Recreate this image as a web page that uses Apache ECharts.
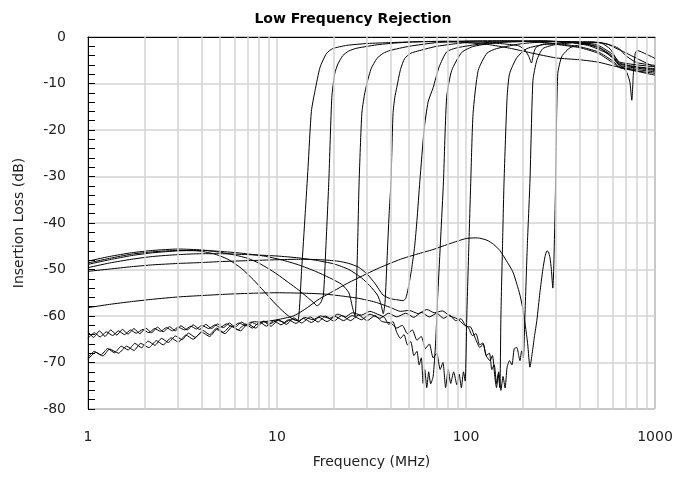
<!DOCTYPE html>
<html><head><meta charset="utf-8">
<script src="https://cdn.jsdelivr.net/npm/echarts@6/dist/echarts.min.js"></script>
<style>html,body{margin:0;padding:0;background:#fff}#c{width:678px;height:482px}</style>
</head><body><div id="c"></div>
<script>
// ---- data (frequency MHz, insertion loss dB) ----
const curve1 = [[1,-48.6],[1.3,-47.6],[1.7,-46.7],[2.2,-46.2],[3,-45.9],[3.8,-46.0],[4.6,-46.6],[5.5,-47.8],[6.5,-49.8],[7.5,-52.2],[8.5,-54.6],[9.5,-56.8],[10.5,-58.6],[11.5,-60.0],[12.3,-60.8],[12.9,-61],[13.5,-50],[14.1,-38],[14.6,-28],[15.2,-16],[15.9,-11.5],[16.9,-6.5],[18.3,-3.5],[19.7,-2.5],[23.4,-1.8],[30,-1.4],[40,-1.2],[60,-1.0],[90,-1.1],[130,-1.6],[170,-2.4],[220,-3.4],[300,-4.5],[400,-4.9],[500,-5.4],[600,-6.2],[700,-6.8],[850,-7.6],[1000,-8.2]];
const curve2 = [[1,-48.2],[1.3,-47.2],[1.7,-46.4],[2.2,-45.9],[3,-45.6],[4,-45.8],[5,-46.3],[6,-46.9],[7,-47.6],[8,-48.6],[9,-49.8],[10,-51],[11.5,-52.8],[13,-54.4],[14.5,-56],[15.5,-57],[16.3,-57.8],[17,-57.2],[17.6,-55.5],[18.1,-46],[18.8,-31],[19.5,-13],[20.2,-7.9],[21,-5.8],[22.3,-4],[24,-3],[26.5,-2.4],[35,-1.6],[50,-1.1],[80,-0.9],[120,-1.1],[160,-1.5],[190,-1.9],[205,-2.8],[215,-4.2],[222,-5.6],[228,-3.5],[235,-2.2],[260,-1.5],[300,-1.6],[400,-2.3],[500,-3.5],[600,-5.6],[650,-6.6],[800,-7.3],[1000,-7.8]];
const curve3 = [[1,-48.9],[1.3,-47.9],[1.7,-47.0],[2.2,-46.4],[3,-46.0],[4,-45.9],[5,-46.1],[6.5,-46.5],[8.5,-47.1],[10.5,-47.9],[13,-49.0],[16,-50.4],[19,-51.8],[22,-53.2],[24,-55],[25.2,-58.5],[25.9,-60],[26.4,-52],[26.8,-42],[27.2,-31],[28.1,-16.5],[29,-12.5],[29.9,-10],[31.5,-6.8],[33.8,-4.6],[36.5,-3.5],[39.6,-2.9],[50,-2.0],[70,-1.2],[100,-0.85],[150,-0.8],[200,-0.9],[300,-1.4],[400,-2.1],[500,-3.2],[600,-5.2],[650,-6.4],[800,-7.0],[1000,-7.5]];
const curve4 = [[1,-49.6],[1.3,-48.6],[1.7,-47.8],[2.2,-47.2],[3,-46.8],[4,-46.6],[5,-46.6],[7,-46.8],[10,-47.1],[13,-47.5],[16,-48.0],[20,-48.8],[24,-50],[28,-51.8],[31,-53.5],[34,-55.5],[35.5,-57.5],[36.5,-59.5],[37.3,-57],[38.2,-48],[39.2,-38],[40.1,-31],[41.1,-16.5],[42,-13],[43,-10.9],[45,-7],[47.4,-4.6],[51,-3.5],[57,-2.9],[70,-2.0],[100,-1.2],[150,-0.9],[250,-0.85],[350,-1.1],[450,-1.9],[550,-3.4],[600,-4.6],[650,-6.1],[800,-6.7],[1000,-7.2]];
const curve5 = [[1,-50.4],[1.3,-49.9],[1.7,-49.4],[2.2,-49.0],[3,-48.7],[4,-48.5],[5,-48.3],[7,-48.1],[10,-47.9],[13,-47.8],[17,-47.9],[21,-48.2],[24,-48.7],[27,-49.5],[30,-51],[33,-53],[36.4,-55.5],[40,-56.3],[43,-56.5],[46.5,-56.7],[48,-56.2],[49.5,-54],[51.5,-50],[53.5,-45],[55,-39.5],[57,-31],[60,-20],[63,-14],[67,-10.9],[72,-6.5],[79,-3.2],[90,-2.3],[120,-1.5],[160,-1.0],[250,-0.85],[350,-1.1],[450,-1.7],[520,-2.6],[600,-4.5],[650,-6.0],[700,-7.2],[735,-9.5],[754,-13.6],[768,-8],[785,-3.6],[805,-2.9],[900,-3.7],[1000,-4.6]];
const curve6 = [[1,-64.8],[1.08,-63.6],[1.16,-64.5],[1.25,-63.4],[1.35,-64.2],[1.45,-63.2],[1.56,-64.0],[1.68,-63.0],[1.8,-63.7],[1.95,-62.9],[2.1,-63.6],[2.25,-62.7],[2.42,-63.3],[2.6,-62.5],[2.8,-63.2],[3.0,-62.4],[3.25,-63.0],[3.5,-62.2],[3.75,-62.8],[4.0,-62.0],[4.35,-62.7],[4.7,-61.9],[5.0,-62.5],[5.4,-61.7],[5.8,-62.3],[6.3,-61.5],[6.8,-62.1],[7.3,-61.3],[7.9,-61.9],[8.5,-61.1],[9.2,-61.7],[10,-60.9],[11,-61.4],[12,-60.6],[13,-61.1],[14,-60.3],[15.5,-60.8],[17,-60.0],[19,-60.5],[21,-59.6],[23,-60.2],[25,-59.3],[28,-59.8],[31,-59.0],[34,-59.6],[37,-60.3],[39,-61.8],[41,-61.2],[43,-63.5],[45,-64.8],[47,-64],[49,-66.2],[51,-65.5],[53,-68.5],[55,-67.6],[56.5,-70.5],[58,-69],[59.3,-74.5],[60.5,-71.5],[62,-75.4],[63.5,-72],[65,-74.6],[67,-73],[69,-66],[71,-55],[73.5,-43],[76,-31],[79,-13],[84,-7.2],[95,-3.3],[110,-2.0],[150,-1.2],[250,-0.9],[400,-1.3],[500,-2.1],[600,-4.2],[650,-5.8],[800,-6.5],[1000,-7.0]];
const curve7 = [[1,-69.3],[1.1,-67.8],[1.2,-68.6],[1.3,-67.1],[1.45,-68.0],[1.6,-66.5],[1.75,-67.4],[1.9,-65.9],[2.1,-66.8],[2.3,-65.3],[2.5,-66.2],[2.75,-64.7],[3.0,-65.6],[3.3,-64.1],[3.6,-65.0],[4.0,-63.5],[4.4,-64.4],[4.8,-62.9],[5.3,-63.8],[5.8,-62.3],[6.4,-63.2],[7.0,-61.7],[7.7,-62.6],[8.5,-61.2],[9.3,-62.2],[10.2,-60.8],[11.2,-61.8],[12.3,-60.4],[13.5,-61.5],[15,-60.2],[16.5,-61.3],[18,-60.0],[20,-61.1],[22,-59.9],[24.5,-61.0],[27,-59.8],[30,-61.0],[33,-59.9],[36,-61.2],[40,-61.5],[43,-62.6],[46,-62],[49,-63.8],[52,-63],[55,-65.2],[58,-64.4],[61,-67],[64,-66],[67,-69],[70,-68],[73,-71.5],[75.5,-70],[78,-75.4],[80.5,-71.5],[83,-74.5],[86,-72],[89.5,-74.8],[92,-72.5],[94.5,-75.4],[97,-72],[99,-74],[101,-60],[103.5,-45],[106,-31],[109,-16.5],[116,-7.2],[129,-3.5],[145,-2.5],[200,-1.4],[300,-0.95],[400,-1.1],[500,-1.8],[600,-3.8],[650,-5.6],[800,-6.4],[1000,-6.8]];
const curve8 = [[1,-58.2],[1.3,-57.5],[1.7,-56.9],[2.2,-56.4],[3,-55.9],[4,-55.6],[5.5,-55.3],[7.5,-55.1],[10,-55.0],[14,-55.1],[18,-55.3],[22,-55.7],[27,-56.2],[33,-57],[40,-58.2],[45,-59],[50,-58.8],[56,-59.5],[62,-58.6],[68,-59.3],[75,-58.9],[82,-60],[90,-60.6],[97,-61.8],[103,-62.5],[108,-64.2],[113,-63.8],[118,-66.2],[123,-65.8],[128,-68.5],[133,-68],[137,-71.5],[141,-70.5],[145,-74.5],[148,-72.5],[151,-75.4],[153,-60],[156,-45],[159,-31],[165,-13],[170,-7.9],[186,-4.4],[210,-2.5],[260,-1.6],[350,-1.1],[450,-1.0],[520,-1.3],[580,-2.6],[620,-4.5],[650,-5.4],[800,-6.0],[1000,-6.4]];
const curve9 = [[1,-68.9],[1.08,-67.6],[1.17,-68.4],[1.27,-67.0],[1.38,-67.9],[1.5,-66.5],[1.63,-67.3],[1.77,-65.9],[1.92,-66.8],[2.08,-65.4],[2.26,-66.3],[2.45,-64.8],[2.66,-65.7],[2.9,-64.3],[3.15,-65.1],[3.4,-63.7],[3.7,-64.6],[4.05,-63.1],[4.4,-64.0],[4.8,-62.6],[5.2,-63.5],[5.7,-62.1],[6.2,-63.0],[6.8,-61.7],[7.4,-62.6],[8.1,-61.3],[8.8,-62.2],[9.6,-61.0],[10.5,-61.9],[11.5,-60.8],[12.6,-61.6],[13.8,-60.5],[15.2,-61.4],[16.7,-60.3],[18.4,-61.2],[20.3,-60.1],[22.5,-61.0],[25,-59.9],[28,-60.8],[31,-59.6],[35,-60.5],[39,-59.4],[43,-60.2],[48,-59.4],[53,-60.3],[58,-59.2],[64,-60.2],[70,-59.4],[76,-60.5],[82,-59.8],[88,-61],[94,-60.6],[100,-62.2],[106,-62.4],[112,-64.8],[118.5,-66.8],[123,-66],[128,-68.6],[134,-69.6],[138,-68.5],[142,-73],[145,-75.4],[149,-72],[153,-76],[157,-73],[161,-75.5],[165,-71],[170,-69.6],[175,-70.5],[180,-67],[186,-66.8],[190,-68.5],[193,-69.6],[197,-67.5],[201,-69],[205,-60],[211,-45],[218,-31],[226,-9.4],[237,-5],[255,-2.5],[300,-1.6],[400,-1.2],[500,-1.2],[600,-1.9],[650,-2.6],[700,-4.0],[800,-5.5],[1000,-6.1]];
const curve10 = [[1,-63.4],[1.07,-64.6],[1.15,-63.2],[1.23,-64.4],[1.32,-63.0],[1.42,-64.1],[1.52,-62.9],[1.63,-63.9],[1.75,-62.7],[1.88,-63.8],[2.02,-62.6],[2.17,-63.6],[2.33,-62.4],[2.5,-63.4],[2.7,-62.3],[2.9,-63.2],[3.1,-62.1],[3.35,-63.0],[3.6,-61.9],[3.9,-62.9],[4.2,-61.8],[4.5,-62.7],[4.85,-61.7],[5.2,-62.5],[5.6,-61.5],[6.0,-62.4],[6.5,-61.3],[7.0,-62.2],[7.5,-61.2],[8.1,-61.3],[10,-60.8],[12.2,-60.0],[14,-58.6],[16.8,-56.3],[20,-54.6],[23.5,-53],[29.9,-50.9],[35,-49.6],[45,-47.8],[55,-46.7],[67,-45.7],[80,-44.6],[90,-43.9],[101,-43.3],[115,-43.2],[129,-43.7],[140,-44.6],[151,-45.9],[163,-48],[177,-50.5],[186,-53.2],[193,-55.5],[200,-58.5],[206,-62],[212,-66],[218,-71],[224,-68],[230,-64.5],[237,-61],[246,-55],[255,-50],[262,-47.2],[268,-46],[273,-46.2],[278,-47.4],[283,-50],[288,-54],[291,-50],[295,-40],[298,-31],[302,-16],[306,-7.8],[314,-5.5],[323,-4],[355,-2.3],[400,-1.7],[450,-1.3],[500,-1.2],[560,-1.5],[620,-2.4],[700,-3.4],[800,-4.6],[1000,-6.5]];
const curves = [curve1,curve2,curve3,curve4,curve5,curve6,curve7,curve8,curve9,curve10];
const minorFreqs = [2,3,4,5,6,7,8,9,20,30,40,50,60,70,80,90,200,300,400,500,600,700,800,900];
const yTicks = [0,-10,-20,-30,-40,-50,-60,-70,-80];

const FONT = 'DejaVu Sans';
const grid = '#d4d4d4';
const chart = echarts.init(document.getElementById('c'), null, {renderer:'canvas'});
const series = [{
  type:'line', data:[], silent:true, z:1,
  markLine:{silent:true, symbol:['none','none'], label:{show:false},
    lineStyle:{color:grid, width:1.5, type:'solid'}, animation:false,
    data:minorFreqs.map(v=>({xAxis:v}))}
}];
curves.forEach(c=>series.push({type:'line', data:c, showSymbol:false, smooth:0.2,
  lineStyle:{color:'#000', width:1}, z:3, animation:false}));
chart.setOption({
  animation:false,
  title:{text:'Low Frequency Rejection', left:348, textAlign:'center', top:7,
    textStyle:{fontFamily:FONT, fontSize:14, fontWeight:'bold', color:'#000'}},
  grid:{left:88, right:23, top:37, bottom:73, show:true, borderColor:'#555', borderWidth:1},
  xAxis:{type:'log', logBase:10, min:1, max:1000,
    name:'Frequency (MHz)', nameLocation:'middle', nameGap:46,
    nameTextStyle:{fontFamily:FONT, fontSize:14, color:'#222'},
    axisLine:{lineStyle:{color:'#000', width:1}}, axisTick:{show:false},
    axisLabel:{fontFamily:FONT, fontSize:14, color:'#222', margin:21,
      formatter:v=>String(Math.round(v))},
    splitLine:{show:true, lineStyle:{color:grid, width:1.5}}},
  yAxis:{type:'value', min:-80, max:0, interval:10,
    name:'Insertion Loss (dB)', nameLocation:'middle', nameGap:62, nameRotate:90,
    nameTextStyle:{fontFamily:FONT, fontSize:14, color:'#222'},
    axisLine:{show:true, lineStyle:{color:'#000', width:1}},
    axisTick:{show:true, inside:true, length:7, lineStyle:{color:'#000'}},
    minorTick:{show:true, splitNumber:5, length:7, lineStyle:{color:'#000'}},
    axisLabel:{fontFamily:FONT, fontSize:14, color:'#222', margin:22,
      formatter:v=>yTicks.includes(v)?String(v):''},
    splitLine:{show:true, lineStyle:{color:grid, width:1.5}}},
  series:series
});
</script></body></html>
